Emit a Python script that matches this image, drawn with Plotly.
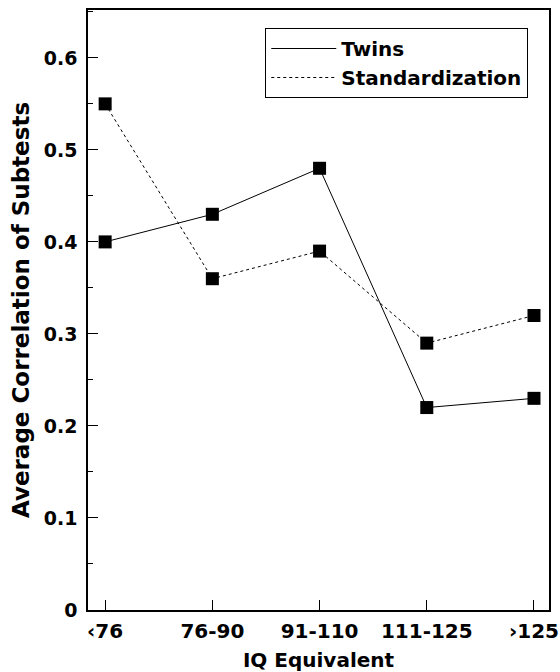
import plotly.graph_objects as go

categories = ["‹76", "76-90", "91-110", "111-125", "›125"]
twins = [0.40, 0.43, 0.48, 0.22, 0.23]
standardization = [0.55, 0.36, 0.39, 0.29, 0.32]
y_ticks = [0, 0.1, 0.2, 0.3, 0.4, 0.5, 0.6]

FONT = "DejaVu Sans"

fig = go.Figure()
fig.add_trace(go.Scatter(x=categories, y=twins, mode="lines+markers",
                         line=dict(color="black", width=1),
                         marker=dict(symbol="square", size=13, color="black"),
                         showlegend=False))
fig.add_trace(go.Scatter(x=categories, y=standardization, mode="lines+markers",
                         line=dict(color="black", width=1, dash="dot"),
                         marker=dict(symbol="square", size=13, color="black"),
                         showlegend=False))
# legend-only entries (lines only, like the reference key)
fig.add_trace(go.Scatter(x=[None], y=[None], mode="lines", name="Twins",
                         line=dict(color="black", width=1)))
fig.add_trace(go.Scatter(x=[None], y=[None], mode="lines", name="Standardization",
                         line=dict(color="black", width=1, dash="dot")))

fig.update_layout(
    width=560, height=672,
    margin=dict(l=88, r=11, t=10, b=62, autoexpand=False),
    paper_bgcolor="white", plot_bgcolor="white",
    font=dict(family=FONT, color="black", size=18, weight="bold"),
    legend=dict(x=0.955, y=0.97, xanchor="right", yanchor="top",
                bordercolor="black", borderwidth=1, bgcolor="white",
                font=dict(family=FONT, size=20, weight="bold"),
                itemwidth=65, tracegroupgap=0),
    xaxis=dict(type="category", range=[-0.16, 4.14], automargin=False,
               showline=True, linecolor="black", linewidth=1.5, mirror=True,
               ticks="inside", ticklen=10, tickcolor="black",
               ticklabelstandoff=2,
               showgrid=False, zeroline=False,
               tickfont=dict(family=FONT, size=20, weight="bold"),
               title=dict(text="IQ Equivalent", standoff=11,
                          font=dict(family=FONT, size=20, weight="bold"))),
    yaxis=dict(range=[0, 0.652], tickvals=y_ticks, automargin=False,
               ticktext=[("0" if v == 0 else f"{v:.1f}") for v in y_ticks],
               showline=True, linecolor="black", linewidth=1.5, mirror=True,
               ticks="inside", ticklen=10, tickcolor="black",
               ticklabelstandoff=5,
               minor=dict(dtick=0.05, ticks="inside", ticklen=5, tickcolor="black", showgrid=False),
               showgrid=False, zeroline=False,
               tickfont=dict(family=FONT, size=19, weight="bold"),
               title=dict(text="Average Correlation of Subtests", standoff=8,
                          font=dict(family=FONT, size=23, weight="bold"))),
)

fig.write_html("out.html",
               config={"displayModeBar": False},
               post_script="document.body.style.margin='0';document.body.style.overflow='hidden';")
